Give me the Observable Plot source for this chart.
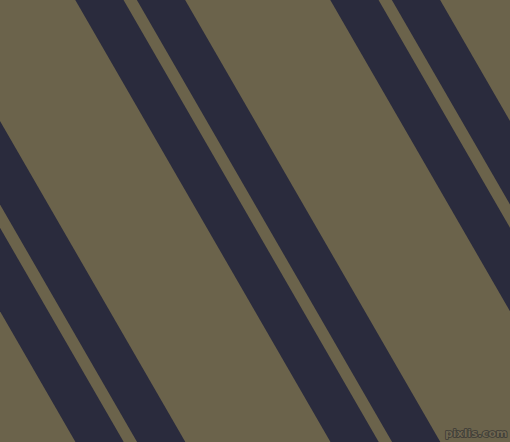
<!DOCTYPE html>
<html>
<head>
<meta charset="utf-8">
<script src="https://cdn.jsdelivr.net/npm/d3@7"></script>
<script src="https://cdn.jsdelivr.net/npm/@observablehq/plot@0.6"></script>
<style>
  html, body { margin: 0; padding: 0; background: #6b634b; overflow: hidden; }
  #chart svg { display: block; }
</style>
</head>
<body>
<div id="chart"></div>
<script>
// Stripe centre lines: x position where each stripe crosses the top edge (px units)
const stripeTopX = [-155.8, -94.2, 99.2, 160.8, 354.2, 415.8];
// stripe angle from vertical (degrees) and perpendicular width
const stripeAngle = [30];
const stripeWidth = [41.8];
const colors = ["#6b634b", "#2a2b3d"]; // background, stripe
const watermark = ["pixlis.com"];

const W = 510, H = 442;
const t = Math.tan(stripeAngle[0] * Math.PI / 180);
const yTop = -60, yBot = H + 60;
const links = stripeTopX.map(x0 => ({
  x1: x0 + t * yTop, y1: yTop,
  x2: x0 + t * yBot, y2: yBot
}));

const plot = Plot.plot({
  width: W,
  height: H,
  margin: 0,
  x: {domain: [0, W], axis: null},
  y: {domain: [H, 0], axis: null},
  style: {background: colors[0], overflow: "hidden"},
  marks: [
    Plot.link(links, {
      x1: "x1", y1: "y1", x2: "x2", y2: "y2",
      stroke: colors[1],
      strokeWidth: stripeWidth[0],
      strokeLinecap: "butt",
      clip: true
    }),
    Plot.text(watermark, {
      x: () => W - 3, y: () => H - 9,
      text: d => d,
      textAnchor: "end",
      fontSize: 11,
      fontWeight: "bold",
      fontFamily: "DejaVu Sans",
      fill: "#6f6650",
      stroke: "#3b3a36",
      strokeWidth: 1.6
    })
  ]
});
document.getElementById("chart").appendChild(plot);
</script>
</body>
</html>
